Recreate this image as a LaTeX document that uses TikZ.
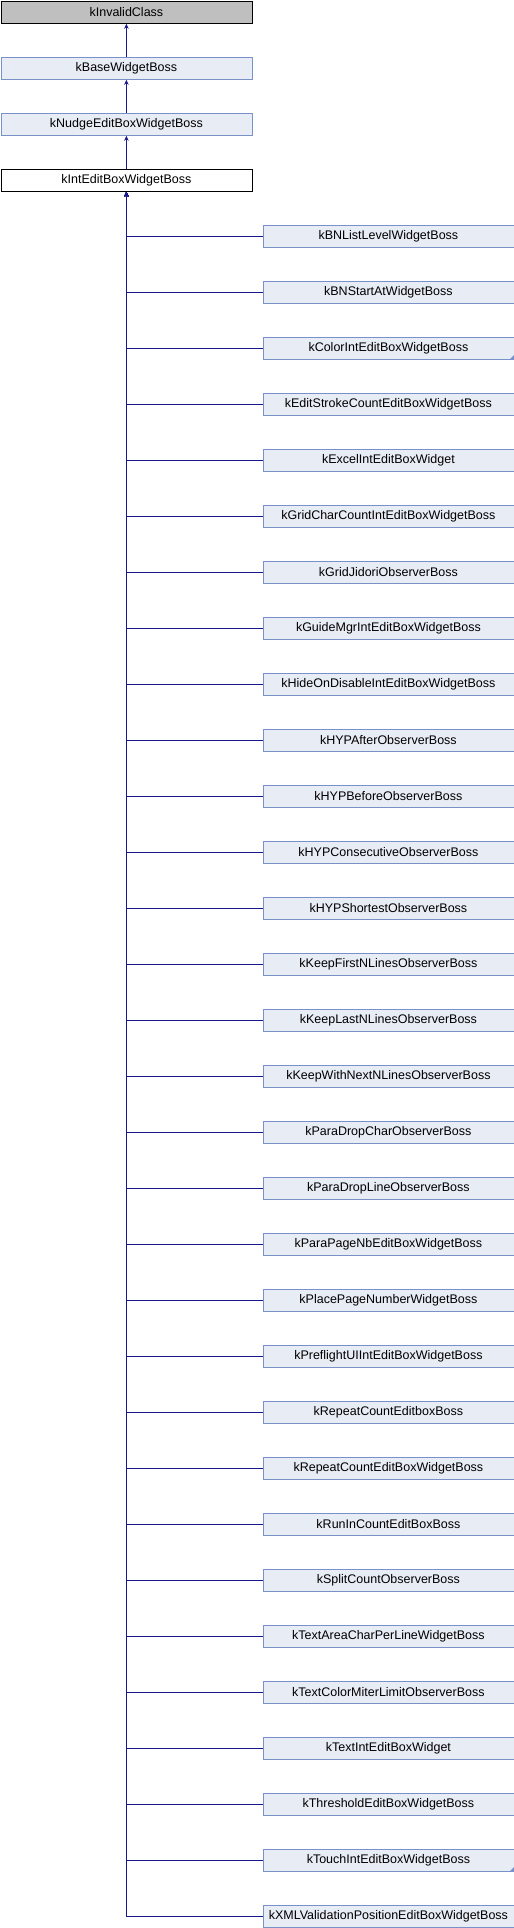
\documentclass[tikz,border=0pt]{standalone}
\usepackage{fontspec}
\setmainfont{Liberation Sans}
\usetikzlibrary{arrows.meta}
\definecolor{boxfill}{RGB}{232,236,245}
\definecolor{boxdraw}{RGB}{120,145,200}
\definecolor{grayfill}{RGB}{191,191,191}
\definecolor{edgecol}{RGB}{25,25,140}
\tikzset{
  cls/.style={rectangle, minimum width=251pt, minimum height=22.5pt, inner sep=0pt, anchor=north west, line width=0.8pt, font=\fontsize{12.5pt}{14pt}\selectfont},
  bluebox/.style={cls, draw=boxdraw, fill=boxfill},
  graybox/.style={cls, draw=black, fill=grayfill},
  whitebox/.style={cls, draw=black, fill=white},
  edge/.style={draw=edgecol, line width=0.9pt, -{Stealth[length=5pt,width=4.5pt]}},
  fold/.style={fill=boxdraw}
}
\begin{document}
\begin{tikzpicture}
\useasboundingbox (0pt,0pt) rectangle (514pt,-1928pt);
\node[graybox] (inv) at (0.5pt,-0.5pt) {kInvalidClass};
\node[bluebox] (base) at (0.5pt,-56.5pt) {kBaseWidgetBoss};
\node[bluebox] (nudge) at (0.5pt,-112.5pt) {kNudgeEditBoxWidgetBoss};
\node[whitebox] (int) at (0.5pt,-168.5pt) {kIntEditBoxWidgetBoss};
\draw[edge] (base.north) -- (inv.south);
\draw[edge] (nudge.north) -- (base.south);
\draw[edge] (int.north) -- (nudge.south);
\foreach \name [count=\i from 0] in {kBNListLevelWidgetBoss,kBNStartAtWidgetBoss,kColorIntEditBoxWidgetBoss,kEditStrokeCountEditBoxWidgetBoss,kExcelIntEditBoxWidget,kGridCharCountIntEditBoxWidgetBoss,kGridJidoriObserverBoss,kGuideMgrIntEditBoxWidgetBoss,kHideOnDisableIntEditBoxWidgetBoss,kHYPAfterObserverBoss,kHYPBeforeObserverBoss,kHYPConsecutiveObserverBoss,kHYPShortestObserverBoss,kKeepFirstNLinesObserverBoss,kKeepLastNLinesObserverBoss,kKeepWithNextNLinesObserverBoss,kParaDropCharObserverBoss,kParaDropLineObserverBoss,kParaPageNbEditBoxWidgetBoss,kPlacePageNumberWidgetBoss,kPreflightUIIntEditBoxWidgetBoss,kRepeatCountEditboxBoss,kRepeatCountEditBoxWidgetBoss,kRunInCountEditBoxBoss,kSplitCountObserverBoss,kTextAreaCharPerLineWidgetBoss,kTextColorMiterLimitObserverBoss,kTextIntEditBoxWidget,kThresholdEditBoxWidgetBoss,kTouchIntEditBoxWidgetBoss,kXMLValidationPositionEditBoxWidgetBoss}{
  \node[bluebox] (c\i) at (262.5pt,{-224.5pt-\i*56pt}) {\name};
  \draw[edge] (c\i.west) -| (int.south);
}
\fill[fold] (c2.south east) -- ++(-5pt,0pt) -- ++(5pt,5pt) -- cycle;
\fill[fold] (c29.south east) -- ++(-5pt,0pt) -- ++(5pt,5pt) -- cycle;
\end{tikzpicture}
\end{document}
